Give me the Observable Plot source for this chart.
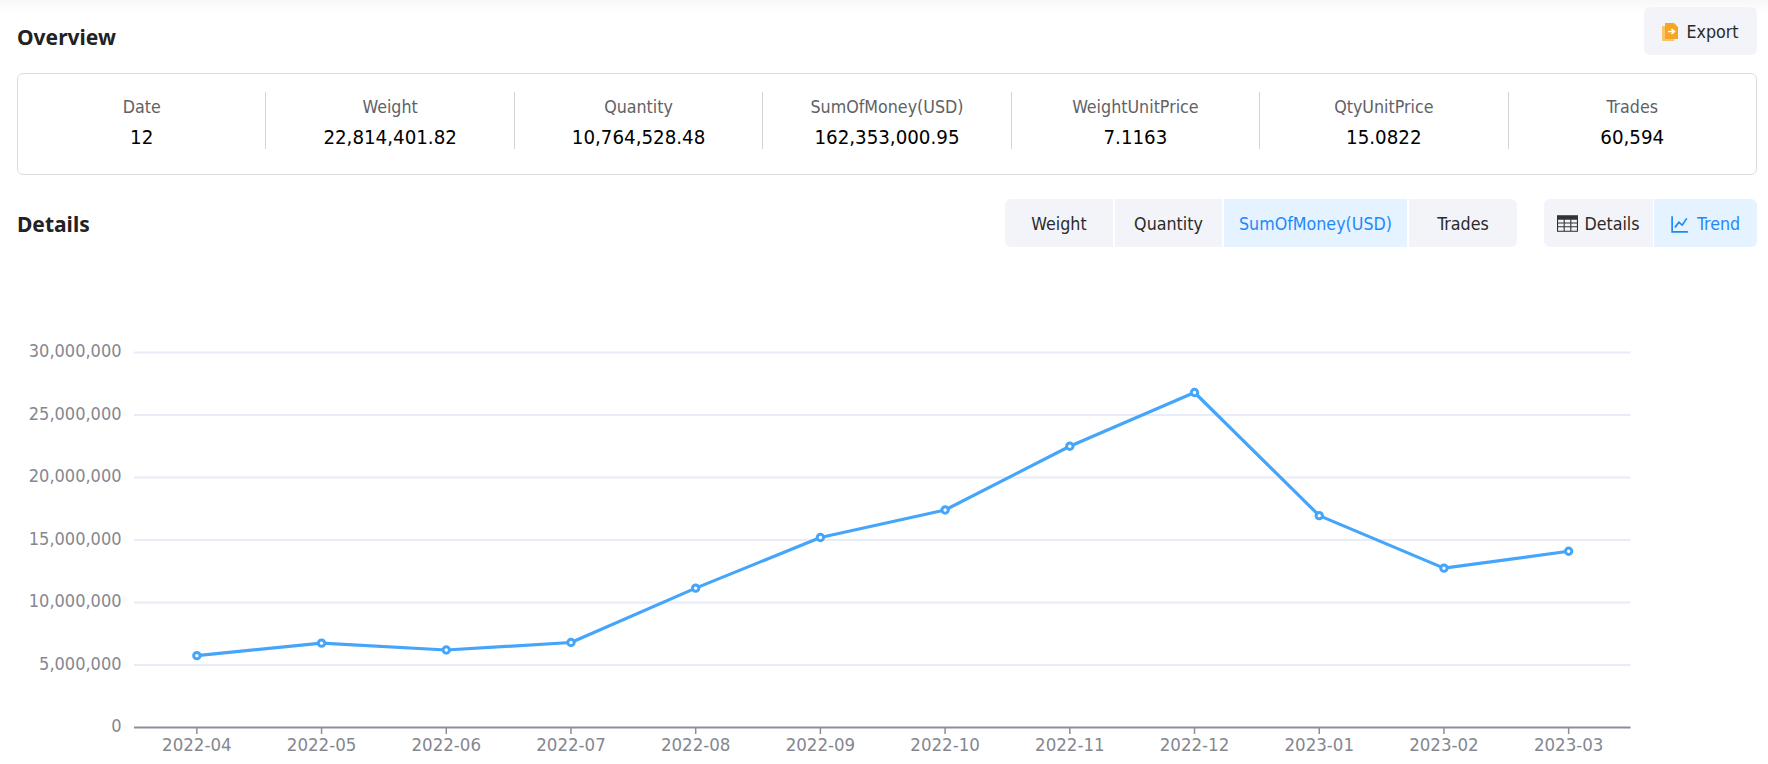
<!DOCTYPE html>
<html><head><meta charset="utf-8">
<script src="https://cdn.jsdelivr.net/npm/d3@7"></script>
<script src="https://cdn.jsdelivr.net/npm/@observablehq/plot@0.6"></script>
<style>
html,body{margin:0;padding:0;background:#fff;width:1768px;height:764px;overflow:hidden;font-family:"DejaVu Sans",sans-serif;font-stretch:condensed;}
#page{position:relative;width:1768px;height:764px;}
#page>*{position:absolute;box-sizing:border-box;}
#shade{left:0;top:0;width:1768px;height:14px;background:linear-gradient(#f8f8f8,#fff);}
.h{font-family:"Noto Sans",sans-serif;font-stretch:normal;font-size:21px;font-weight:700;color:#222;line-height:28px;left:17px;}
#card{left:17px;top:73px;width:1740px;height:102px;border:1px solid #dcdcdc;border-radius:6px;display:flex;align-items:flex-start;padding-top:18px;}
.st{flex:1;height:57px;text-align:center;border-left:1px solid #d4d4d4;}
.st:first-child{border-left:0;}
.st .l{font-size:17.700px;color:#606266;line-height:24px;margin-top:3px;}
.st .v{font-size:20.300px;color:#000;line-height:30px;margin-top:3px;}
.btn{height:48px;top:199px;padding-top:1px;background:#f2f4f9;color:#2a2a2a;font-size:17.700px;display:flex;align-items:center;justify-content:center;gap:6px;}
.on{background:#e5f2ff;color:#1f88f8;}
#chart{left:0;top:300.500px;}
svg.ic{display:block}
</style></head><body>
<div id="page">
<div id="shade"></div>
<div class="h" style="top:23px">Overview</div>
<div class="btn" style="left:1644px;top:7px;width:113px;border-radius:6px;gap:8px;">
<svg class="ic" width="16" height="18" viewBox="0 0 16 18"><path d="M0 3h3v12h9v3H1a1 1 0 0 1-1-1z" fill="#fbc36c"/><path d="M3 0h9l4 4v12H3z" fill="#f5a623"/><path d="M6 8.500h6M9.500 6l3 2.500-3 2.500" stroke="#fff" stroke-width="1.600" fill="none"/></svg>Export</div>
<div id="card"></div>
<div class="h" style="top:210px">Details</div>
<div class="btn" style="left:1005px;width:108px;border-radius:6px 0 0 6px;">Weight</div>
<div class="btn" style="left:1115px;width:107px;">Quantity</div>
<div class="btn on" style="left:1224px;width:183px;">SumOfMoney(USD)</div>
<div class="btn" style="left:1409px;width:108px;border-radius:0 6px 6px 0;">Trades</div>
<div class="btn" style="left:1544px;width:109px;border-radius:6px 0 0 6px;">
<svg class="ic" width="21" height="17" viewBox="0 0 19 15"><path d="M0 0h19v15H0z" fill="#333"/><path d="M1 4h5v2.500H1zM7 4h5v2.500H7zM13 4h5v2.500h-5zM1 7.500h5V10H1zM7 7.500h5V10H7zM13 7.500h5V10h-5zM1 11h5v3H1zM7 11h5v3H7zM13 11h5v3h-5z" fill="#f2f4f9"/></svg>Details</div>
<div class="btn on" style="left:1654px;width:103px;border-radius:0 6px 6px 0;gap:8px;">
<svg class="ic" width="18" height="18" viewBox="0 0 16 16"><path d="M1 1v14h14M3.500 11l3.500-4.500 3 2.500 4-6" stroke="#1f88f8" stroke-width="1.500" fill="none"/></svg>Trend</div>
<div id="chart"></div>
</div>
<script>
const statLabels = ["Date","Weight","Quantity","SumOfMoney(USD)","WeightUnitPrice","QtyUnitPrice","Trades"];
const statValues = ["12","22,814,401.82","10,764,528.48","162,353,000.95","7.1163","15.0822","60,594"];
const months = ["2022-04","2022-05","2022-06","2022-07","2022-08","2022-09","2022-10","2022-11","2022-12","2023-01","2023-02","2023-03"];
const sumOfMoney = [5750000,6750000,6200000,6800000,11150000,15200000,17400000,22500000,26800000,16950000,12750000,14100000];
const yTicks = [0,5000000,10000000,15000000,20000000,25000000,30000000];

const card = document.getElementById("card");
statLabels.forEach((l,i)=>{
  const d=document.createElement("div");d.className="st";
  const a=document.createElement("div");a.className="l";a.textContent=l;
  const b=document.createElement("div");b.className="v";b.textContent=statValues[i];
  d.append(a,b);card.append(d);
});
const data = months.map((m,i)=>({m,v:sumOfMoney[i]}));
const chart = Plot.plot({
  width:1768,height:464,marginLeft:134,marginRight:137.5,marginTop:51,marginBottom:38,
  style:{fontFamily:'"DejaVu Sans",sans-serif',fontStretch:"condensed",fontSize:"18px",background:"transparent",overflow:"visible"},
  x:{type:"band",domain:months,padding:0,round:false,label:null},
  y:{type:"linear",domain:[0,30000000],label:null},
  marks:[
    Plot.ruleY(yTicks.slice(1),{stroke:"#e8ecf8",strokeWidth:2}),
    Plot.axisX({domain:months,tickSize:7,tickPadding:3,stroke:"#8c8f99",strokeWidth:1.500,fill:"#85878f",fontSize:18.5,label:null}),
    Plot.ruleY([0],{stroke:"#8c8f99",strokeWidth:2}),
    Plot.axisY({ticks:yTicks,tickSize:0,tickPadding:13,fill:"#85878f",fontSize:18,dy:-1,tickFormat:d3.format(","),label:null}),
    Plot.line(data,{x:"m",y:"v",stroke:"#45a5fb",strokeWidth:3.2,curve:"linear"}),
    Plot.dot(data,{x:"m",y:"v",r:3.2,fill:"#fff",stroke:"#45a5fb",strokeWidth:3})
  ]
});
document.getElementById("chart").append(chart);
</script>
</body></html>
